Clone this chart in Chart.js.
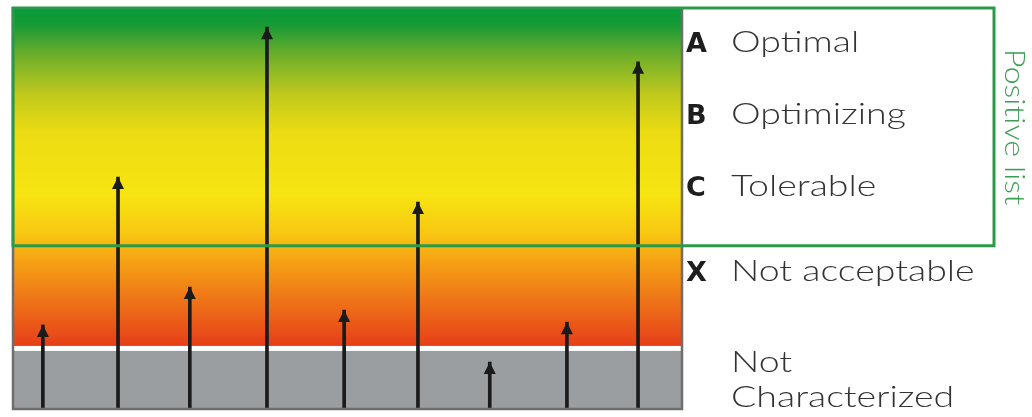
<!DOCTYPE html>
<html>
<head>
<meta charset="utf-8">
<script src="https://cdn.jsdelivr.net/npm/chart.js@4"></script>
<style>
  html, body { margin: 0; padding: 0; background: #ffffff; }
  #wrap { width: 1032px; height: 417px; }
</style>
</head>
<body>
<div id="wrap"><canvas id="myChart" width="1032" height="417"></canvas></div>
<script>
// posicion de cada flecha (0-100 a lo ancho) y altura (0-100)
var posicionesX = [4.6, 15.8, 26.5, 38.0, 49.5, 60.5, 71.2, 82.7, 93.3];
var alturas = [21.1, 57.8, 30.5, 95.0, 24.8, 51.6, 11.9, 21.8, 86.4];

// limites de las zonas (0-100)
var limiteNoCaracterizado = 15.4;
var limiteListaPositiva = 41.0;

// etiquetas de la derecha
var letras = ['A', 'B', 'C', 'X', ''];
var nombres = ['Optimal', 'Optimizing', 'Tolerable', 'Not acceptable', 'Not'];
var nombreExtra = 'Characterized';
var tituloLista = 'Positive list';

var puntos = posicionesX.map(function(x, i) { return { x: x, y: alturas[i] }; });

var fondoPlugin = {
  id: 'fondo',
  beforeDatasetsDraw: function(chart) {
    var ctx = chart.ctx;
    var a = chart.chartArea;
    var ys = chart.scales.y;
    var yGris = ys.getPixelForValue(limiteNoCaracterizado);
    ctx.save();
    var g = ctx.createLinearGradient(0, a.top, 0, yGris);
    g.addColorStop(0.00, '#079a3c');
    g.addColorStop(0.05, '#159a36');
    g.addColorStop(0.14, '#6cae2a');
    g.addColorStop(0.26, '#c2ca1c');
    g.addColorStop(0.37, '#ecdc12');
    g.addColorStop(0.55, '#f7e412');
    g.addColorStop(0.66, '#f8c812');
    g.addColorStop(0.74, '#f6a414');
    g.addColorStop(0.86, '#ef7418');
    g.addColorStop(1.00, '#e63c18');
    ctx.fillStyle = g;
    ctx.fillRect(a.left, a.top, a.right - a.left, yGris - a.top);
    // zona gris
    ctx.fillStyle = '#9b9ea1';
    ctx.fillRect(a.left, yGris, a.right - a.left, a.bottom - yGris);
    // linea blanca
    ctx.fillStyle = '#ffffff';
    ctx.fillRect(a.left, yGris - 2, a.right - a.left, 5);
    ctx.restore();
  },
  afterDatasetsDraw: function(chart) {
    var ctx = chart.ctx;
    var a = chart.chartArea;
    var ys = chart.scales.y;
    var meta = chart.getDatasetMeta(0);
    ctx.save();
    // puntas de flecha
    ctx.fillStyle = '#1b1b1b';
    meta.data.forEach(function(bar) {
      ctx.beginPath();
      ctx.moveTo(bar.x, bar.y);
      ctx.lineTo(bar.x - 6, bar.y + 12);
      ctx.lineTo(bar.x + 6, bar.y + 12);
      ctx.closePath();
      ctx.fill();
    });
    // borde gris del grafico
    ctx.strokeStyle = '#6e6e6e';
    ctx.lineWidth = 2.5;
    ctx.beginPath();
    ctx.moveTo(a.left + 1, a.top);
    ctx.lineTo(a.left + 1, a.bottom - 1);
    ctx.lineTo(a.right - 1, a.bottom - 1);
    ctx.lineTo(a.right - 1, a.top);
    ctx.stroke();
    // rectangulo verde de la lista positiva
    var yLista = ys.getPixelForValue(limiteListaPositiva);
    ctx.strokeStyle = '#2b9a48';
    ctx.lineWidth = 3;
    ctx.strokeRect(a.left + 1, a.top + 1, 993 - a.left, yLista - a.top);

    // textos
    var filas = [52, 124, 196, 281, 372];
    var xLetra = a.right + 3;
    var xNombre = a.right + 48;
    ctx.textBaseline = 'alphabetic';
    ctx.textAlign = 'left';
    for (var i = 0; i < letras.length; i++) {
      ctx.fillStyle = '#1e1e1e';
      ctx.font = 'bold 27px "DejaVu Sans"';
      ctx.fillText(letras[i], xLetra, filas[i]);
      escrito(ctx, nombres[i], xNombre, filas[i]);
    }
    escrito(ctx, nombreExtra, xNombre, 407);

    // titulo vertical
    ctx.translate(1005, 127);
    ctx.rotate(Math.PI / 2);
    ctx.scale(1.2, 1);
    ctx.textAlign = 'center';
    ctx.fillStyle = '#3a9e55';
    ctx.font = '300 27px Lato';
    ctx.fillText(tituloLista, 0, 0);
    ctx.restore();
  }
};

// texto ancho, parecido a la fuente original
function escrito(ctx, texto, x, y) {
  ctx.save();
  ctx.translate(x, y);
  ctx.scale(1.25, 1);
  ctx.fillStyle = '#333333';
  ctx.font = '300 30px Lato';
  ctx.fillText(texto, 0, 0);
  ctx.restore();
}

var ctx = document.getElementById('myChart').getContext('2d');
var grafico = new Chart(ctx, {
  type: 'bar',
  data: {
    datasets: [{
      data: puntos,
      backgroundColor: '#1b1b1b',
      borderWidth: 0,
      barThickness: 3
    }]
  },
  options: {
    responsive: false,
    animation: false,
    devicePixelRatio: 1,
    layout: { padding: { left: 12, top: 7, right: 349, bottom: 7 } },
    scales: {
      x: { type: 'linear', min: 0, max: 100, offset: false, display: false },
      y: { min: 0, max: 100, display: false }
    },
    plugins: {
      legend: { display: false },
      tooltip: { enabled: false }
    }
  },
  plugins: [fondoPlugin]
});
</script>
</body>
</html>
